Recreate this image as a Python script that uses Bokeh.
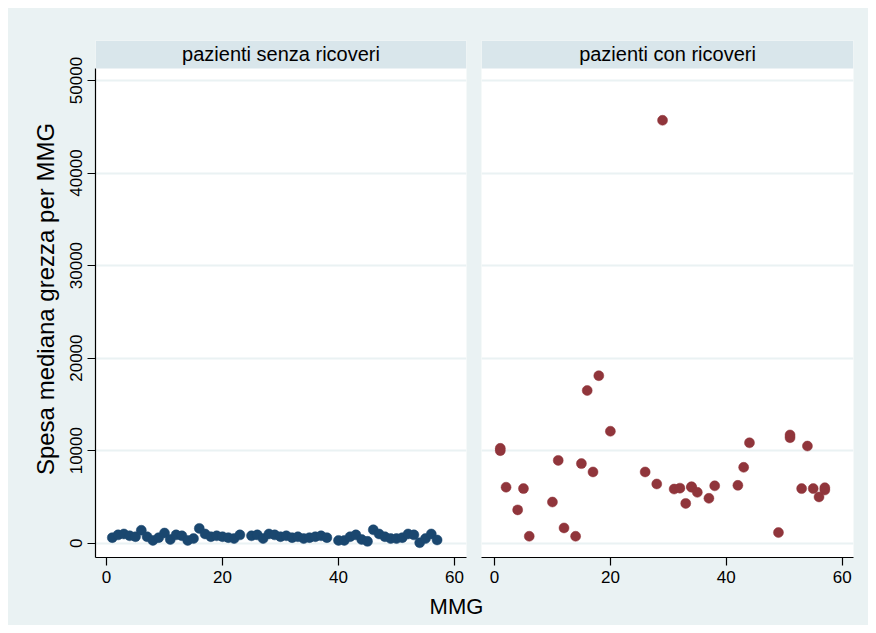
from bokeh.plotting import figure
from bokeh.layouts import row, column
from bokeh.models import Range1d, FixedTicker, BoxAnnotation, Label, ColumnDataSource
from bokeh.embed import file_html
from bokeh.resources import INLINE

# ---------------- data ----------------
panel_titles = ["pazienti senza ricoveri", "pazienti con ricoveri"]
y_label = "Spesa mediana grezza per MMG"
x_label = "MMG"
y_ticks = [0, 10000, 20000, 30000, 40000, 50000]
x_ticks = [0, 20, 40, 60]

left_x = [1, 2, 3, 4, 5, 6, 7, 8, 9, 10, 11, 12, 13, 14, 15, 16, 17, 18, 19, 20,
          21, 22, 23, 25, 26, 27, 28, 29, 30, 31, 32, 33, 34, 35, 36, 37, 38,
          40, 41, 42, 43, 44, 45, 46, 47, 48, 49, 50, 51, 52, 53, 54, 55, 56, 57]
left_y = [600, 900, 1000, 800, 700, 1400, 700, 300, 600, 1100, 400, 900, 800, 300, 500, 1600, 1000, 700, 800, 700,
          600, 500, 900, 800, 900, 500, 1000, 900, 700, 800, 600, 700, 500, 600, 700, 800, 600,
          300, 300, 700, 900, 400, 200, 1450, 1000, 700, 500, 500, 600, 1000, 900, 50, 500, 1000, 350]

right_x = [1, 1, 2, 4, 5, 6, 10, 11, 12, 14, 15, 16, 17, 18, 20, 26, 28, 29, 31, 32, 33, 34, 34, 35,
           37, 38, 42, 43, 44, 49, 51, 51, 53, 54, 55, 56, 57, 57]
right_y = [10000, 10250, 6050, 3600, 5900, 750, 4450, 8950, 1650, 750, 8600, 16500, 7700, 18100, 12100,
           7700, 6400, 45700, 5850, 5950, 4300, 6100, 6050, 5500, 4850, 6200, 6250, 8200, 10850, 1150,
           11400, 11700, 5900, 10500, 5900, 5000, 5750, 6000]

# ---------------- style ----------------
BG = "#EAF2F3"
HEADER = "#D9E6EB"
BLUE = "#1A476F"
RED = "#90353B"
FONT = "Liberation Sans"

Y_START, Y_END = -1545, 54322
HEADER_BOTTOM = 51297
TOP_H = 584


def make_panel(xs, ys, color, title, x_start, x_end, width, border_left, border_right, with_yaxis):
    p = figure(width=width, height=TOP_H, output_backend="svg", toolbar_location=None,
               x_range=Range1d(x_start, x_end), y_range=Range1d(Y_START, Y_END),
               y_axis_location="left" if with_yaxis else None,
               min_border_left=border_left, min_border_right=border_right,
               min_border_top=32, min_border_bottom=TOP_H - 32 - 517)
    p.background_fill_color = "white"
    p.border_fill_color = BG
    p.outline_line_color = None

    p.xgrid.visible = False
    p.ygrid.ticker = FixedTicker(ticks=y_ticks)
    p.ygrid.grid_line_color = BG
    p.ygrid.grid_line_width = 2
    p.ygrid.bounds = (Y_START, HEADER_BOTTOM)

    src = ColumnDataSource(dict(x=xs, y=ys))
    p.scatter("x", "y", source=src, size=10, fill_color=color, line_color=color, line_width=0.5)

    p.xaxis.ticker = FixedTicker(ticks=x_ticks)
    p.xaxis.axis_line_color = "black"
    p.xaxis.axis_line_width = 1.2
    p.xaxis.major_tick_line_color = "black"
    p.xaxis.major_tick_line_width = 1.2
    p.xaxis.major_tick_out = 8
    p.xaxis.major_tick_in = 0
    p.xaxis.minor_tick_line_color = None
    p.xaxis.major_label_text_font = FONT
    p.xaxis.major_label_text_font_size = "17px"
    p.xaxis.major_label_text_color = "black"
    p.xaxis.major_label_standoff = 5

    if with_yaxis:
        ax = p.yaxis[0]
        ax.ticker = FixedTicker(ticks=y_ticks)
        ax.bounds = (Y_START, HEADER_BOTTOM)
        ax.axis_line_color = "black"
        ax.axis_line_width = 1.2
        ax.major_tick_line_color = "black"
        ax.major_tick_line_width = 1.2
        ax.major_tick_out = 8
        ax.major_tick_in = 0
        ax.minor_tick_line_color = None
        ax.major_label_orientation = "vertical"
        ax.major_label_text_font = FONT
        ax.major_label_text_font_size = "17px"
        ax.major_label_text_color = "black"
        ax.major_label_standoff = 5
        ax.axis_label = y_label
        ax.axis_label_text_font = FONT
        ax.axis_label_text_font_size = "24px"
        ax.axis_label_text_font_style = "normal"
        ax.axis_label_text_color = "black"
        ax.axis_label_standoff = 9

    p.add_layout(BoxAnnotation(bottom=HEADER_BOTTOM, fill_color=HEADER, fill_alpha=1.0,
                               line_color=None))
    p.add_layout(Label(x=(x_start + x_end) / 2, y=(HEADER_BOTTOM + Y_END) / 2, text=title,
                       text_align="center", text_baseline="middle",
                       text_font=FONT, text_font_size="20px", text_color="black"))
    return p


p1 = make_panel(left_x, left_y, BLUE, panel_titles[0], -1.897, 62.07, 465, 87, 7, True)
p2 = make_panel(right_x, right_y, RED, panel_titles[1], -2.24, 61.95, 395, 8, 15, False)

bottom = figure(width=860, height=617 - TOP_H, output_backend="svg", toolbar_location=None,
                x_range=Range1d(0, 860), y_range=Range1d(0, 617 - TOP_H),
                x_axis_location=None, y_axis_location=None,
                min_border=0, min_border_left=0, min_border_right=0,
                min_border_top=0, min_border_bottom=0)
bottom.background_fill_color = BG
bottom.border_fill_color = BG
bottom.outline_line_color = None
bottom.grid.visible = False
bottom.add_layout(Label(x=448, y=(617 - TOP_H) - 14, text=x_label, text_align="center",
                        text_baseline="middle", text_font=FONT, text_font_size="22px",
                        text_color="black"))

top_row = row(p1, p2, spacing=0, styles={"background-color": BG})
layout = column(top_row, bottom, spacing=0, margin=(8, 0, 0, 8),
                styles={"background-color": BG})

open("out.html", "w").write(file_html(layout, INLINE))
